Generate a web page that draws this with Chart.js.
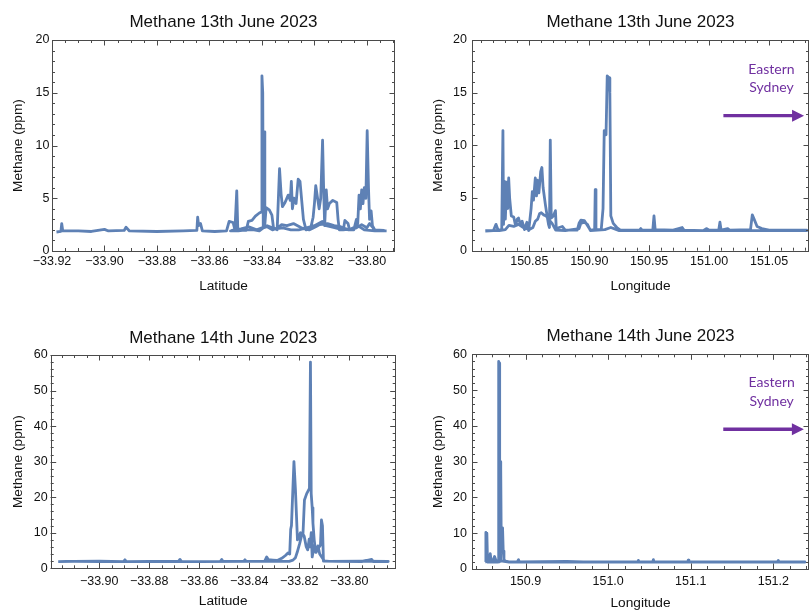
<!DOCTYPE html>
<html>
<head>
<meta charset="utf-8">
<title>Methane June 2023</title>
<script src="https://cdn.jsdelivr.net/npm/chart.js@4.4.0/dist/chart.umd.min.js"></script>
<style>
  html, body { margin: 0; padding: 0; background: #fff; overflow: hidden; }
  #wrap { position: relative; width: 809px; height: 610px; overflow: hidden; }
  canvas { position: absolute; }
</style>
</head>
<body>
<div id="wrap">
  <canvas id="latJun13" width="405" height="305" style="left:0;top:0"></canvas>
  <canvas id="lonJun13" width="404" height="305" style="left:405px;top:0"></canvas>
  <canvas id="latJun14" width="405" height="312" style="left:0;top:305px"></canvas>
  <canvas id="lonJun14" width="404" height="312" style="left:405px;top:305px"></canvas>
</div>
<script>
// 13 June 2023 - methane vs latitude (drive traces, several passes)
const lat13 = [
  -33.9183, -33.9166, -33.9163, -33.9159, -33.9100, -33.9050, -33.9000, -33.8985, -33.8925, -33.8918,
  -33.8905, -33.8800, -33.8700, -33.8648, -33.8645, -33.8641, -33.8634, -33.8627, -33.8580, -33.8535,
  -33.8525, -33.8510, -33.8503, -33.8496, -33.8492, -33.8460, -33.8452, -33.8438, -33.8425, -33.8410,
  -33.8402, -33.8400, -33.8397, -33.8395, -33.8392, -33.8389, -33.8384, -33.8372, -33.8362, -33.8356,
  -33.8342, -33.8333, -33.8327, -33.8322, -33.8312, -33.8300, -33.8292, -33.8288, -33.8284, -33.8278,
  -33.8270, -33.8262, -33.8255, -33.8242, -33.8232, -33.8215, -33.8205, -33.8200, -33.8195, -33.8188,
  -33.8182, -33.8176, -33.8169, -33.8165, -33.8161, -33.8155, -33.8150, -33.8143, -33.8130, -33.8115,
  -33.8110, -33.8105, -33.8090, -33.8084, -33.8072, -33.8066, -33.8050, -33.8040, -33.8035, -33.8030,
  -33.8025, -33.8020, -33.8015, -33.8010, -33.8004, -33.7999, -33.7994, -33.7990, -33.7984, -33.7979,
  -33.7970, -33.7930,
  -33.7935, -33.7970, -33.7990, -33.8000, -33.8020, -33.8040, -33.8070, -33.8100, -33.8125, -33.8150,
  -33.8180, -33.8195, -33.8220, -33.8250, -33.8280, -33.8305, -33.8325, -33.8340, -33.8360, -33.8380,
  -33.8395, -33.8410, -33.8430, -33.8460, -33.8490, -33.8520,
  -33.8515, -33.8480, -33.8450, -33.8420, -33.8380, -33.8350, -33.8320, -33.8290, -33.8260, -33.8230,
  -33.8200, -33.8170, -33.8155, -33.8120, -33.8090, -33.8060, -33.8035, -33.8010, -33.7970, -33.7925
];
const ch4Lat13 = [
  1.80, 1.85, 2.60, 1.90, 1.90, 1.85, 2.05, 1.90, 1.95, 2.25,
  1.90, 1.85, 1.90, 1.95, 3.20, 2.40, 2.60, 1.90, 1.85, 1.90,
  2.80, 2.70, 2.00, 5.70, 2.00, 1.95, 2.80, 2.90, 3.30, 3.60,
  3.70, 16.60, 15.00, 2.20, 11.30, 2.50, 4.10, 3.90, 3.40, 2.20,
  2.00, 7.80, 5.40, 4.20, 4.60, 5.30, 4.80, 6.60, 4.00, 5.00,
  4.50, 6.80, 6.60, 3.00, 2.00, 2.10, 3.20, 4.50, 6.20, 5.00,
  4.00, 5.00, 10.50, 6.00, 2.40, 5.80, 4.00, 4.50, 4.80, 4.60,
  3.00, 2.00, 2.00, 2.90, 2.60, 2.00, 2.00, 3.00, 2.60, 5.30,
  4.00, 5.80, 4.50, 6.00, 5.00, 11.40, 6.00, 3.00, 3.80, 2.40,
  2.00, 1.90,
  1.95, 2.00, 2.60, 2.20, 2.50, 2.20, 2.00, 2.30, 2.40, 2.60,
  2.50, 2.30, 2.00, 2.20, 2.60, 2.40, 2.50, 2.20, 2.00, 2.30,
  2.20, 1.90, 2.00, 2.00, 1.90, 1.90,
  1.95, 2.10, 2.30, 2.00, 2.40, 2.10, 2.20, 2.00, 2.00, 2.20,
  2.40, 2.80, 2.40, 2.20, 2.00, 2.10, 2.40, 2.00, 1.90, 1.90
];

// 13 June 2023 - methane vs longitude
const lon13 = [
  150.8133, 150.8200, 150.8222, 150.8240, 150.8270, 150.8280, 150.8285, 150.8292, 150.8300, 150.8312,
  150.8320, 150.8328, 150.8336, 150.8350, 150.8370, 150.8385, 150.8400, 150.8410, 150.8425, 150.8440,
  150.8460, 150.8480, 150.8495, 150.8515, 150.8525, 150.8535, 150.8550, 150.8560, 150.8567, 150.8580,
  150.8595, 150.8605, 150.8615, 150.8635, 150.8650, 150.8660, 150.8668, 150.8675, 150.8683, 150.8700,
  150.8718, 150.8725, 150.8750, 150.8775, 150.8800, 150.8900, 150.8915, 150.8930, 150.8960, 150.8985,
  150.9010, 150.9045, 150.9050, 150.9056, 150.9100, 150.9115, 150.9125, 150.9140, 150.9150, 150.9165,
  150.9172, 150.9180, 150.9200, 150.9230, 150.9260, 150.9420, 150.9430, 150.9440, 150.9530, 150.9540,
  150.9550, 150.9700, 150.9775, 150.9790, 150.9950, 150.9980, 151.0000, 151.0080, 151.0090, 151.0100,
  151.0155, 151.0170, 151.0345, 151.0360, 151.0375, 151.0400, 151.0440, 151.0480, 151.0500, 151.0814,
  151.0814, 151.0500, 151.0000, 150.9500, 150.9250, 150.9180, 150.9130, 150.9010, 150.8985, 150.8960,
  150.8930, 150.8915, 150.8800, 150.8720, 150.8690, 150.8660, 150.8640, 150.8620, 150.8600, 150.8585,
  150.8570, 150.8550, 150.8530, 150.8500, 150.8450, 150.8410, 150.8370, 150.8330, 150.8300, 150.8250,
  150.8133
];
const ch4Lon13 = [
  1.85, 1.90, 2.50, 1.95, 2.00, 11.40, 2.50, 6.60, 3.00, 6.50,
  4.00, 6.90, 5.00, 3.30, 3.20, 2.40, 3.00, 3.10, 2.50, 2.80,
  2.00, 2.70, 1.90, 4.00, 5.60, 4.80, 6.90, 5.20, 6.70, 5.50,
  7.50, 7.90, 6.00, 4.30, 3.20, 2.50, 2.20, 10.50, 3.10, 3.30,
  3.80, 2.10, 2.20, 2.30, 1.95, 1.95, 2.60, 2.90, 2.85, 2.40,
  1.95, 2.00, 5.80, 2.00, 2.00, 4.00, 11.40, 11.00, 16.60, 16.40,
  15.00, 3.30, 2.60, 2.20, 1.95, 1.95, 2.10, 1.95, 1.95, 3.30,
  2.00, 1.95, 2.20, 1.95, 1.90, 2.10, 1.95, 1.95, 2.70, 1.95,
  2.10, 1.95, 2.00, 3.40, 3.00, 2.30, 2.10, 2.00, 1.95, 1.95,
  1.90, 1.90, 1.90, 1.90, 1.90, 2.20, 2.00, 1.90, 2.50, 2.70,
  2.60, 2.10, 1.90, 1.95, 2.60, 3.00, 3.30, 3.40, 3.60, 3.50,
  3.00, 2.80, 2.20, 2.00, 2.20, 2.50, 2.30, 2.40, 2.00, 1.90,
  1.90
];

// 14 June 2023 - methane vs latitude
const lat14 = [
  -33.9164, -33.9100, -33.9000, -33.8902, -33.8897, -33.8892, -33.8800, -33.8683, -33.8677, -33.8671,
  -33.8600, -33.8515, -33.8510, -33.8505, -33.8422, -33.8417, -33.8412, -33.8338, -33.8330, -33.8323,
  -33.8305, -33.8288, -33.8270, -33.8255, -33.8245, -33.8238, -33.8234, -33.8231, -33.8221, -33.8215,
  -33.8207, -33.8200, -33.8195, -33.8185, -33.8179, -33.8170, -33.8159, -33.8155, -33.8152, -33.8148,
  -33.8145, -33.8140, -33.8134, -33.8128, -33.8120, -33.8115, -33.8111, -33.8107, -33.8103, -33.8050,
  -33.7950, -33.7910, -33.7905, -33.7844,
  -33.7844, -33.7950, -33.8080, -33.8100, -33.8118, -33.8125, -33.8132, -33.8140, -33.8148, -33.8152,
  -33.8156, -33.8160, -33.8166, -33.8172, -33.8180, -33.8188, -33.8198, -33.8208, -33.8215, -33.8225,
  -33.8240, -33.8300, -33.8400, -33.8600, -33.8800, -33.8900, -33.9000, -33.9100, -33.9164
];
const ch4Lat14 = [
  1.90, 1.95, 1.90, 1.95, 2.40, 1.90, 1.95, 1.95, 2.50, 1.95,
  1.90, 1.95, 2.50, 1.95, 1.95, 2.40, 1.95, 2.00, 3.20, 2.40,
  2.30, 2.20, 2.80, 3.60, 4.30, 4.00, 11.00, 12.00, 30.00, 22.00,
  8.00, 9.00, 10.00, 9.50, 19.20, 21.00, 22.50, 58.00, 21.00, 17.00,
  12.70, 8.00, 4.50, 5.50, 6.00, 6.50, 13.60, 12.00, 2.00, 1.95,
  1.90, 2.50, 1.90, 1.90,
  1.95, 2.00, 1.95, 2.10, 4.00, 6.30, 4.50, 6.50, 3.20, 10.00,
  6.00, 8.20, 5.20, 6.10, 9.00, 9.90, 7.00, 4.50, 3.00, 2.30,
  1.95, 1.95, 1.95, 1.90, 1.95, 1.90, 2.00, 1.95, 1.90
];

// 14 June 2023 - methane vs longitude
const lon14 = [
  150.8513, 150.8520, 150.8526, 150.8532, 150.8540, 150.8560, 150.8573, 150.8585, 150.8610, 150.8625,
  150.8640, 150.8660, 150.8672, 150.8675, 150.8682, 150.8687, 150.8694, 150.8700, 150.8706, 150.8715,
  150.8722, 150.8730, 150.8739, 150.8760, 150.8800, 150.8900, 150.8915, 150.8925, 150.9200, 150.9500,
  150.9700, 151.0000, 151.0360, 151.0366, 151.0375, 151.0540, 151.0548, 151.0556, 151.0800, 151.0965,
  151.0970, 151.0978, 151.1300, 151.1600, 151.2050, 151.2060, 151.2070, 151.2382,
  151.2382, 151.1500, 151.0500, 150.9500, 150.8800, 150.8700, 150.8690, 150.8685, 150.8660, 150.8600,
  150.8540, 150.8530, 150.8518
];
const ch4Lon14 = [
  2.00, 10.20, 3.00, 10.00, 2.00, 2.20, 4.30, 2.00, 2.50, 3.50,
  2.50, 2.00, 2.20, 58.00, 57.50, 10.00, 30.00, 28.00, 8.00, 11.00,
  11.50, 5.00, 2.50, 2.20, 2.00, 2.00, 2.60, 2.00, 2.05, 2.10,
  2.00, 1.95, 2.00, 2.40, 2.00, 2.00, 2.60, 2.00, 1.95, 2.00,
  2.50, 2.00, 2.00, 1.95, 2.00, 2.40, 2.00, 1.95,
  1.90, 1.90, 1.90, 1.90, 1.90, 2.30, 12.00, 2.00, 1.95, 2.00,
  1.95, 4.00, 1.95
];

const LINE = '#5E81B5';
const FRAME = '#4a4a4a';
const PURPLE = '#7030A0';
const SANS = '"Liberation Sans", Arial, Helvetica, sans-serif';

// Mathematica-style frame: box with inward major/minor ticks on all four sides
const framePlugin = {
  id: 'frame',
  afterDatasetsDraw(chart, args, opts) {
    const { ctx, chartArea: a, scales: { x, y } } = chart;
    ctx.save();
    ctx.strokeStyle = FRAME;
    ctx.lineWidth = 1;
    ctx.beginPath();
    const markX = (v, len) => {
      const p = Math.round(x.getPixelForValue(v)) + 0.5;
      ctx.moveTo(p, a.bottom); ctx.lineTo(p, a.bottom - len);
      ctx.moveTo(p, a.top); ctx.lineTo(p, a.top + len);
    };
    const markY = (v, len) => {
      const p = Math.round(y.getPixelForValue(v)) + 0.5;
      ctx.moveTo(a.left, p); ctx.lineTo(a.left + len, p);
      ctx.moveTo(a.right, p); ctx.lineTo(a.right - len, p);
    };
    for (let k = Math.ceil(x.min / opts.xMinor - 1e-6); k * opts.xMinor <= x.max + 1e-9; k++) markX(k * opts.xMinor, 3);
    for (let k = Math.ceil(y.min / opts.yMinor - 1e-6); k * opts.yMinor <= y.max + 1e-9; k++) markY(k * opts.yMinor, 3);
    x.ticks.forEach(t => markX(t.value, 5.5));
    y.ticks.forEach(t => markY(t.value, 5.5));
    ctx.stroke();
    ctx.strokeRect(Math.round(a.left) + 0.5, Math.round(a.top) + 0.5,
      Math.round(a.right) - Math.round(a.left) - 1, Math.round(a.bottom) - Math.round(a.top));
    ctx.restore();
  }
};

// "Eastern Sydney" note with arrow, placed in data units
const eastPlugin = {
  id: 'east',
  afterDatasetsDraw(chart, args, opts) {
    if (!opts || !opts.show) return;
    const { ctx, scales: { x, y } } = chart;
    const x0 = x.getPixelForValue(opts.from), x1 = x.getPixelForValue(opts.to);
    const ya = y.getPixelForValue(opts.arrowY);
    ctx.save();
    ctx.strokeStyle = PURPLE;
    ctx.fillStyle = PURPLE;
    ctx.lineWidth = 3.3;
    ctx.beginPath();
    ctx.moveTo(x0, ya); ctx.lineTo(x1 - 10, ya);
    ctx.stroke();
    ctx.beginPath();
    ctx.moveTo(x1, ya); ctx.lineTo(x1 - 12, ya - 6); ctx.lineTo(x1 - 12, ya + 6);
    ctx.closePath();
    ctx.fill();
    ctx.font = '14px Lato, "Open Sans", sans-serif';
    ctx.textAlign = 'center';
    ctx.textBaseline = 'middle';
    const tx = x.getPixelForValue(opts.textX);
    ctx.fillText('Eastern', tx, y.getPixelForValue(opts.line1Y));
    ctx.fillText('Sydney', tx, y.getPixelForValue(opts.line2Y));
    ctx.restore();
  }
};

const fmtLat = v => (v < 0 ? '\u2212' : '') + Math.abs(v).toFixed(2);

function makeChart(id, xs, ys, p) {
  const points = xs.map((v, i) => ({ x: v, y: ys[i] }));
  return new Chart(document.getElementById(id), {
    type: 'scatter',
    data: {
      datasets: [{
        data: points,
        showLine: true,
        borderColor: LINE,
        borderWidth: 2.8,
        borderJoinStyle: 'round',
        pointRadius: 0,
        tension: 0
      }]
    },
    plugins: [framePlugin, eastPlugin],
    options: {
      responsive: false,
      animation: false,
      layout: { padding: { left: 0, right: p.padRight, top: 0, bottom: 0 } },
      scales: {
        x: {
          type: 'linear',
          min: p.xMin,
          max: p.xMax,
          grid: { display: false, drawTicks: false },
          border: { display: false },
          ticks: {
            stepSize: p.xStep,
            includeBounds: false,
            autoSkip: false,
            maxRotation: 0,
            padding: p.xTickPad,
            color: '#111',
            font: { family: SANS, size: 12.5 },
            callback: p.xFmt
          },
          title: {
            display: true,
            text: p.xTitle,
            color: '#111',
            font: { family: SANS, size: 13.7 },
            padding: { top: 0, bottom: p.xTitlePad }
          },
          afterFit: s => { s.height = p.xHeight; }
        },
        y: {
          min: 0,
          max: p.yMax,
          grid: { display: false, drawTicks: false },
          border: { display: false },
          ticks: {
            stepSize: p.yStep,
            padding: p.yTickPad,
            color: '#111',
            font: { family: SANS, size: 12.5 }
          },
          title: {
            display: true,
            text: 'Methane (ppm)',
            color: '#111',
            font: { family: SANS, size: 13.7 },
            padding: { top: p.yTitlePad, bottom: 0 }
          },
          afterFit: s => { s.width = p.yWidth; }
        }
      },
      plugins: {
        legend: { display: false },
        tooltip: { enabled: false },
        title: {
          display: true,
          text: p.title,
          fullSize: false,
          color: '#111',
          font: { family: SANS, size: 17, weight: 'normal' },
          padding: { top: p.titleTop, bottom: p.titleBottom }
        },
        frame: { xMinor: p.xMinor, yMinor: p.yMinor },
        east: p.east || { show: false }
      }
    }
  });
}

makeChart('latJun13', lat13, ch4Lat13, {
  title: 'Methane 13th June 2023', xTitle: 'Latitude',
  xMin: -33.92, xMax: -33.7893, xStep: 0.02, xMinor: 0.005, xFmt: fmtLat,
  yMax: 20, yStep: 5, yMinor: 1,
  padRight: 10, titleTop: 12.3, titleBottom: 7.3,
  xHeight: 54, xTickPad: 3.5, xTitlePad: 10.8, yWidth: 52, yTickPad: 2.5, yTitlePad: 10.1
});

makeChart('lonJun13', lon13, ch4Lon13, {
  title: 'Methane 13th June 2023', xTitle: 'Longitude',
  xMin: 150.8022, xMax: 151.0833, xStep: 0.05, xMinor: 0.01, xFmt: v => v.toFixed(2),
  yMax: 20, yStep: 5, yMinor: 1,
  padRight: 0, titleTop: 12.3, titleBottom: 7.3,
  xHeight: 54.3, xTickPad: 3.5, xTitlePad: 10.8, yWidth: 67, yTickPad: 5, yTitlePad: 25.1,
  east: { show: true, from: 151.0119, to: 151.0792, arrowY: 12.82, textX: 151.052, line1Y: 17.2, line2Y: 15.5 }
});

makeChart('latJun14', lat14, ch4Lat14, {
  title: 'Methane 14th June 2023', xTitle: 'Latitude',
  xMin: -33.9194, xMax: -33.7814, xStep: 0.02, xMinor: 0.005, xFmt: fmtLat,
  yMax: 60, yStep: 10, yMinor: 2,
  padRight: 9.3, titleTop: 22.8, titleBottom: 6.8,
  xHeight: 48.7, xTickPad: 5.5, xTitlePad: 7.1, yWidth: 50.7, yTickPad: 3, yTitlePad: 10.1
});

makeChart('lonJun14', lon14, ch4Lon14, {
  title: 'Methane 14th June 2023', xTitle: 'Longitude',
  xMin: 150.8352, xMax: 151.2432, xStep: 0.1, xMinor: 0.02, xFmt: v => v.toFixed(1),
  yMax: 60, yStep: 10, yMinor: 2,
  padRight: 0, titleTop: 21.5, titleBottom: 7.4,
  xHeight: 48, xTickPad: 5.2, xTitlePad: 5.5, yWidth: 67, yTickPad: 5, yTitlePad: 25.1,
  east: { show: true, from: 151.1394, to: 151.237, arrowY: 39.05, textX: 151.198, line1Y: 52.2, line2Y: 46.8 }
});
</script>
</body>
</html>
